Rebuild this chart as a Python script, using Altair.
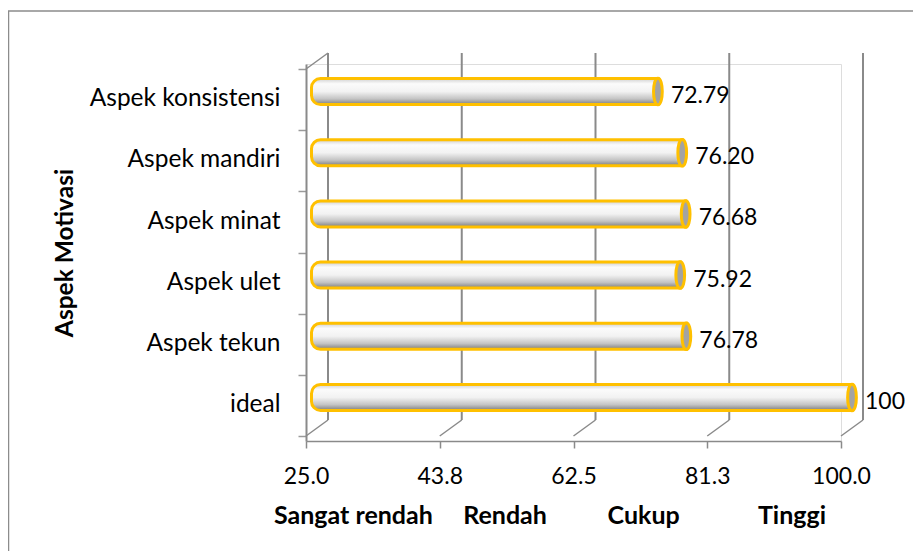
import json
import altair as alt
import pandas as pd

# ---------------- data ----------------
categories = ["ideal", "Aspek tekun", "Aspek ulet", "Aspek minat", "Aspek mandiri", "Aspek konsistensi"]
values = [100, 76.78, 75.92, 76.68, 76.20, 72.79]
value_labels = ["100", "76.78", "75.92", "76.68", "76.20", "72.79"]
tick_values = [25.0, 43.75, 62.5, 81.25, 100.0]
tick_labels = ["25.0", "43.8", "62.5", "81.3", "100.0"]
level_names = ["Sangat rendah", "Rendah", "Cukup", "Tinggi"]
y_title = "Aspek Motivasi"

# ---------------- styling ----------------
FONT = "Lato"
GRID = "#8a8a8a"
GOLD = "#FFC000"
DX, DY = 22, -16          # 3-D depth offset (px)
W, H = 535, 377
NB = "\u00a0"
level_gaps = [5, 10, 13]  # spacer widths (in nbsp) between level names
x_title = level_names[0]
for g, name in zip(level_gaps, level_names[1:]):
    x_title += NB * g + name

bars_df = pd.DataFrame({
    "cat": categories,
    "pos": [i + 0.5 for i in range(len(categories))],
    "value": values,
    "label": value_labels,
    "start": [tick_values[0]] * len(categories),
})
ticks_df = pd.DataFrame({"t": tick_values})

xs = alt.Scale(domain=[tick_values[0], tick_values[-1]], nice=False, zero=False)
ys = alt.Scale(domain=[0, len(categories)], nice=False, zero=False)

y_lab_expr = "datum.value < %d ? %s[datum.value] : ''" % (len(categories), json.dumps(categories))
x_lab_expr = "%s[indexof(%s, datum.value)]" % (json.dumps(tick_labels), json.dumps(tick_values))

x_axis = alt.Axis(
    values=tick_values, labelExpr=x_lab_expr, grid=False, zindex=1,
    domainColor=GRID, domainWidth=1.5, tickColor=GRID, tickWidth=1.5, tickSize=7,
    labelFont=FONT, labelFontSize=23, labelColor="black", labelBaseline="alphabetic",
    labelPadding=35, labelFlush=False, labelOverlap=False, labelLimit=300,
    title=x_title, titleFont=FONT, titleFontSize=25, titleFontWeight="bold",
    titleColor="black", titleAnchor="start", titleAlign="left", titleLimit=900,
    titleX=-32.5, titleY=82, titleBaseline="alphabetic",
)
y_axis = alt.Axis(
    values=list(range(len(categories) + 1)), labelExpr=y_lab_expr, grid=False, zindex=1,
    domainColor=GRID, domainWidth=2, tickColor="#9a9a9a", tickWidth=1.5, tickSize=8,
    labelFont=FONT, labelFontSize=24.5, labelColor="black", labelPadding=18,
    labelOffset=-H / len(categories) / 2, labelBaseline="middle", labelFlush=False,
    labelOverlap=False, labelLimit=300,
    title=y_title, titleFont=FONT, titleFontSize=24.5, titleFontWeight="bold",
    titleColor="black", titleAngle=-90, titleX=-241, titleY=H / 2,
    titleBaseline="middle", titleAlign="center",
)

# outer chart frame (decoration)
frame = alt.Chart(pd.DataFrame({"a": [0]})).mark_rect(
    fill="transparent", stroke="#8c8c8c", strokeWidth=1.5
).encode(
    x=alt.value(-297.5), x2=alt.value(W + 200),
    y=alt.value(-53), y2=alt.value(H + 200),
)

# back wall gridlines
back = alt.Chart(ticks_df).mark_rule(
    color=GRID, strokeWidth=2, xOffset=DX, x2Offset=DX, yOffset=DY, y2Offset=DY
).encode(
    x=alt.X("t:Q", scale=xs, axis=x_axis),
    y=alt.YDatum(0, scale=ys, axis=y_axis),
    y2=alt.Y2Datum(len(categories)),
)

# floor slanted lines
floor = alt.Chart(ticks_df).mark_rule(
    color=GRID, strokeWidth=1.5, x2Offset=DX, y2Offset=DY
).encode(
    x=alt.X("t:Q", scale=xs, axis=x_axis),
    x2="t:Q",
    y=alt.YDatum(0, scale=ys, axis=y_axis),
    y2=alt.Y2Datum(0),
)

# side wall top edge
side_top = alt.Chart(pd.DataFrame({"a": [0]})).mark_rule(
    color=GRID, strokeWidth=1.5, x2Offset=DX, y2Offset=DY
).encode(
    x=alt.XDatum(tick_values[0], scale=xs, axis=x_axis),
    x2=alt.X2Datum(tick_values[0]),
    y=alt.YDatum(len(categories), scale=ys, axis=y_axis),
    y2=alt.Y2Datum(len(categories)),
)

gradient = {
    "gradient": "linear", "x1": 0, "y1": 0, "x2": 0, "y2": 1,
    "stops": [
        {"offset": 0.0, "color": "#cfcfcf"},
        {"offset": 0.2, "color": "#fbfbfb"},
        {"offset": 0.5, "color": "#f2f2f2"},
        {"offset": 0.78, "color": "#c4c4c4"},
        {"offset": 1.0, "color": "#7c7c7c"},
    ],
}

bars = alt.Chart(bars_df).mark_bar(
    orient="horizontal", size=26, fill=gradient, stroke=GOLD, strokeWidth=3,
    xOffset=5.5, x2Offset=DX / 2, yOffset=DY / 2,
    cornerRadiusTopLeft=9, cornerRadiusBottomLeft=9,
).encode(
    x=alt.X("start:Q", scale=xs, axis=x_axis),
    x2="value:Q",
    y=alt.Y("pos:Q", scale=ys, axis=y_axis),
)

ellipse = "M0,-1 C0.44,-1 0.44,1 0,1 C-0.44,1 -0.44,-1 0,-1 Z"
caps = alt.Chart(bars_df).mark_point(
    shape=ellipse, size=700, fill="#a3a3a3", stroke=GOLD, strokeWidth=3, opacity=1,
    fillOpacity=1, xOffset=DX / 2, yOffset=DY / 2,
).encode(
    x=alt.X("value:Q", scale=xs, axis=x_axis),
    y=alt.Y("pos:Q", scale=ys, axis=y_axis),
)

labels = alt.Chart(bars_df).mark_text(
    font=FONT, fontSize=23, color="black", align="left", baseline="middle",
    xOffset=24, yOffset=-3.5,
).encode(
    x=alt.X("value:Q", scale=xs, axis=x_axis),
    y=alt.Y("pos:Q", scale=ys, axis=y_axis),
    text="label:N",
)

chart = alt.layer(frame, back, floor, side_top, bars, caps, labels).properties(
    width=W, height=H,
    autosize=alt.AutoSizeParams(type="none"),
    padding={"left": 298, "top": 56, "right": 72, "bottom": 110},
).configure_view(stroke=None).configure(background="white")

chart.save("out.html", embed_options={"renderer": "svg", "actions": False})
